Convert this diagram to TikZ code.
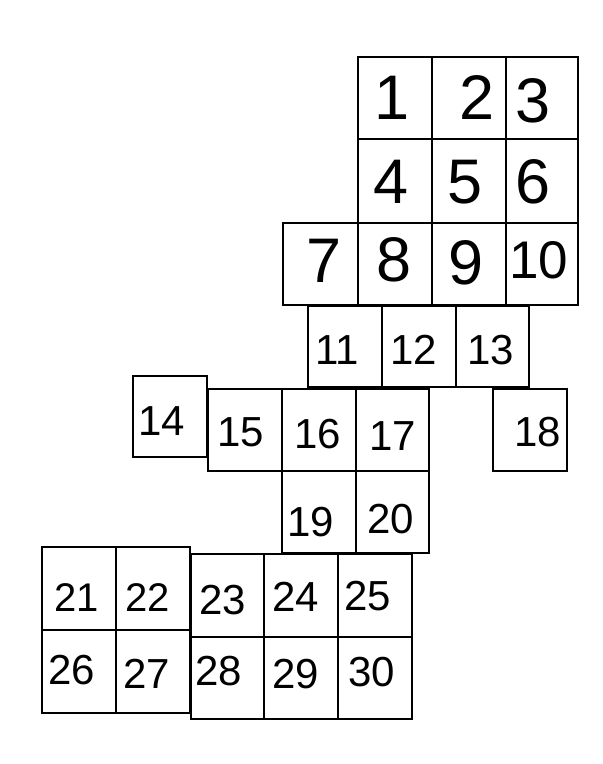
\documentclass[tikz,border=0pt]{standalone}
\usepackage{fontspec}
\setmainfont{Liberation Sans}
\begin{document}
\begin{tikzpicture}[x=1pt,y=-1pt,
  cellbox/.style={draw=black,line width=2pt,inner sep=0pt,outer sep=0pt,fill=none},
  lbl/.style={inner sep=0pt,outer sep=0pt,text=black}]
\useasboundingbox (0,0) rectangle (603,764);
\foreach \n/\a/\b/\c/\d in {
  1/357.7/57.3/431.7/139.3, 2/431.7/57.3/506/139.3, 3/506/57.3/578.3/139.3,
  4/357.7/139.3/431.7/222.7, 5/431.7/139.3/506/222.7, 6/506/139.3/578.3/222.7,
  7/283.3/222.7/357.7/305, 8/357.7/222.7/431.7/305, 9/431.7/222.7/506/305, 10/506/222.7/578.3/305,
  11/307.7/306/381.7/387.3, 12/381.7/306/455.7/387.3, 13/455.7/306/529/387.3,
  14/133.3/375.7/207.3/457.3,
  15/207.5/389/281.7/471, 16/281.7/389/356/471, 17/356/389/429/471,
  18/492.7/389/566.7/471,
  19/281.7/471/356/553.3, 20/356/471/429/553.3,
  21/42.3/547.3/116.3/630, 22/116.3/547.3/189.7/630,
  26/42.3/630/116.3/712.7, 27/116.3/630/189.7/712.7,
  23/190.7/554.3/264.3/636.7, 24/264.3/554.3/338.3/636.7, 25/338.3/554.3/411.7/636.7,
  28/190.7/636.7/264.3/719, 29/264.3/636.7/338.3/719, 30/338.3/636.7/411.7/719}
  \node[cellbox, minimum width={\c-\a}, minimum height={\d-\b}] (b\n) at ({(\a+\c)/2},{(\b+\d)/2}) {};
\foreach \n/\x/\y/\s in {
  1/391.7/97.5/63, 2/476.7/97.5/63, 3/533.5/100.5/63,
  4/391.5/182/63, 5/465/182.5/63, 6/533.5/182/63,
  7/324/260.5/63, 8/394.5/260/63, 9/466/262.5/63, 10/539/260/53,
  11/337.5/350/42, 12/414/350/42, 13/491/350/42,
  14/162/421/42, 15/240.5/432/42, 16/318/434/42, 17/393/436/42, 18/538/431.7/42,
  19/311/521.7/42, 20/391/519/42,
  21/76.7/597.5/40, 22/147.5/598/40, 23/222.5/600/42, 24/295.8/596.7/42, 25/367.5/596/42,
  26/71.7/670/42, 27/147/674/42, 28/219/671/42, 29/296/674/42, 30/371.7/671.7/42}
  \node[lbl, font=\fontsize{\s}{\s}\selectfont] (t\n) at (\x,\y) {\n};
\end{tikzpicture}
\end{document}
